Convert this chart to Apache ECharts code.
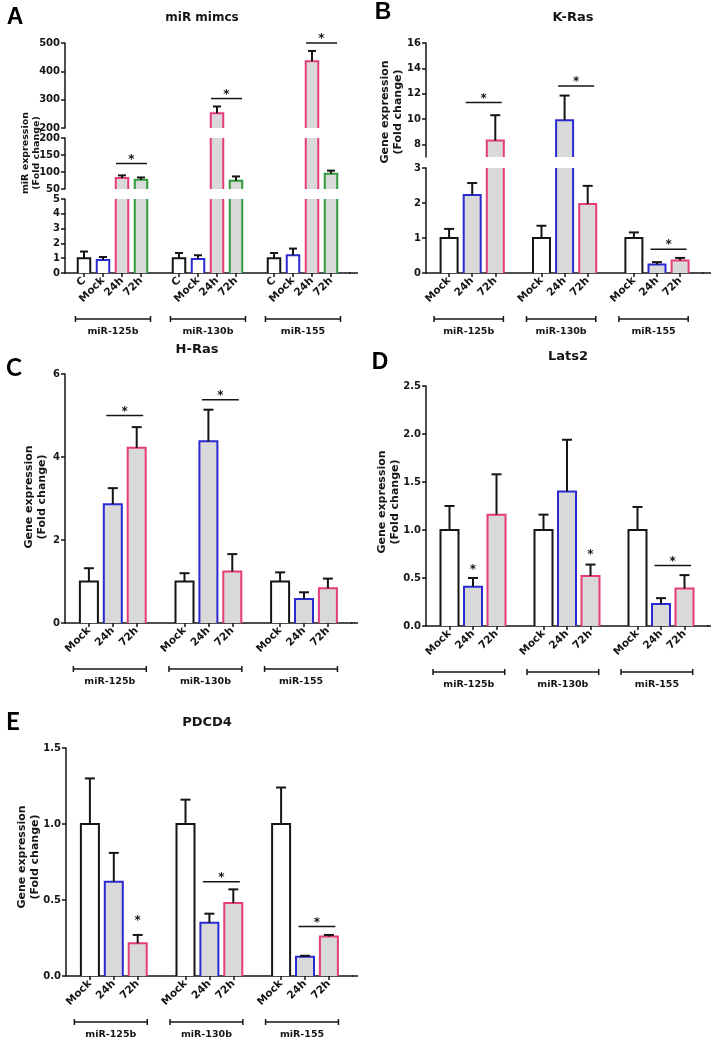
<!DOCTYPE html>
<html>
<head>
<meta charset="utf-8">
<script src="https://cdn.jsdelivr.net/npm/echarts@6/dist/echarts.min.js"></script>
<style>
  html, body { margin: 0; background: #fff; }
  #chart { width: 712px; height: 1050px; }
</style>
</head>
<body>
<div id="chart"></div>
<script>
// groups and conditions
const groups = ['miR-125b', 'miR-130b', 'miR-155']
const mimicConds = ['C', 'Mock', '24h', '72h']
const geneConds = ['Mock', '24h', '72h']

// A: miR mimcs, mean and SD (group by group, conditions in order)
const mimicsMean = [1.0, 0.88, 82, 77, 1.0, 0.95, 252, 74, 1.0, 1.2, 436, 95]
const mimicsSd = [0.45, 0.2, 8, 7, 0.35, 0.25, 24, 13, 0.35, 0.45, 36, 9]
// B: K-Ras
const krasMean = [1.0, 2.23, 8.3, 1.0, 9.9, 1.97, 1.0, 0.24, 0.36]
const krasSd = [0.26, 0.34, 2.0, 0.35, 1.95, 0.52, 0.16, 0.07, 0.07]
// C: H-Ras
const hrasMean = [1.0, 2.86, 4.22, 1.0, 4.38, 1.24, 1.0, 0.58, 0.84]
const hrasSd = [0.32, 0.39, 0.5, 0.2, 0.76, 0.42, 0.22, 0.16, 0.23]
// D: Lats2
const lats2Mean = [1.0, 0.41, 1.16, 1.0, 1.40, 0.52, 1.0, 0.23, 0.39]
const lats2Sd = [0.25, 0.09, 0.42, 0.16, 0.54, 0.12, 0.24, 0.06, 0.14]
// E: PDCD4
const pdcd4Mean = [1.0, 0.62, 0.215, 1.0, 0.35, 0.48, 1.0, 0.127, 0.26]
const pdcd4Sd = [0.3, 0.19, 0.055, 0.16, 0.06, 0.09, 0.24, 0.006, 0.01]

// significance marks: [group, first cond, last cond, height]
const mimicsSig = [[0, 2, 3, 125], [1, 2, 3, 304], [2, 2, 3, 500]]
const krasSig = [[0, 1, 2, 11.3], [1, 1, 2, 12.6], [2, 1, 2, 0.68]]
const hrasSig = [[0, 1, 2, 5.0], [1, 1, 2, 5.38]]
const lats2Sig = [[0, 1, 1, 0.62], [1, 2, 2, 0.77], [2, 1, 2, 0.63]]
const pdcd4Sig = [[0, 2, 2, 0.38], [1, 1, 2, 0.62], [2, 1, 2, 0.325]]

// y tick labels (broken axes have one list per segment, top first)
const mimicsTicks = [[200, 300, 400, 500], [50, 100, 150, 200], [0, 1, 2, 3, 4, 5]]
const krasTicks = [[8, 10, 12, 14, 16], [0, 1, 2, 3]]
const hrasTicks = [0, 2, 4, 6]
const lats2Ticks = [0, 0.5, 1.0, 1.5, 2.0, 2.5]
const pdcd4Ticks = [0, 0.5, 1.0, 1.5]

const ink = '#151515'
const blue = '#2a2ad2'
const pink = '#e63b7c'
const green = '#2f9a3a'
const shade = '#d9d9d9'
const font = '"DejaVu Sans"'

const geneName = 'Gene expression\n(Fold change)'
const geneStroke = [ink, blue, pink]
const geneFill = ['#fff', shade, shade]

const panels = [
  {
    letter: 'A', letterPos: [15, 18], letterFont: 'bold 23px "Liberation Sans"',
    title: 'miR mimcs', titlePos: [202, 18], titleSize: 12,
    yName: 'miR expression\n(Fold change)', yNamePos: [31, 153], yNameSize: 9.5,
    conds: mimicConds, mean: mimicsMean, sd: mimicsSd, sig: mimicsSig,
    stroke: [ink, blue, pink, green], fill: ['#fff', '#fff', shade, shade],
    left: 65, axisEnd: 358, step: 19, barWidth: 12.5, capWidth: 8, sigPad: 6, bracketPad: [0.45, 0.5], decimals: 0,
    segments: [
      { top: 43, bottom: 128, min: 200, max: 500, ticks: mimicsTicks[0] },
      { top: 138, bottom: 189, min: 50, max: 200, ticks: mimicsTicks[1] },
      { top: 199, bottom: 273, min: 0, max: 5, ticks: mimicsTicks[2] }
    ]
  },
  {
    letter: 'B', letterPos: [383, 13], letterFont: 'bold 23px "Liberation Sans"',
    title: 'K-Ras', titlePos: [573, 18], titleSize: 13,
    yName: geneName, yNamePos: [392, 112], yNameSize: 11,
    conds: geneConds, mean: krasMean, sd: krasSd, sig: krasSig,
    stroke: geneStroke, fill: geneFill,
    left: 426, axisEnd: 711, step: 23.1, barWidth: 17, capWidth: 10, sigPad: 6.5, bracketPad: [0.65, 0.35], decimals: 0,
    segments: [
      { top: 43, bottom: 157, min: 7, max: 16, ticks: krasTicks[0] },
      { top: 168, bottom: 273, min: 0, max: 3, ticks: krasTicks[1] }
    ]
  },
  {
    letter: 'C', letterPos: [14, 368], letterFont: 'bold 24px Lato',
    title: 'H-Ras', titlePos: [197, 350], titleSize: 13,
    yName: geneName, yNamePos: [36, 497], yNameSize: 11,
    conds: geneConds, mean: hrasMean, sd: hrasSd, sig: hrasSig,
    stroke: geneStroke, fill: geneFill,
    left: 65, axisEnd: 358, step: 23.9, barWidth: 18, capWidth: 10, sigPad: 6.5, bracketPad: [0.65, 0.4], decimals: 0,
    segments: [{ top: 374, bottom: 623, min: 0, max: 6, ticks: hrasTicks }]
  },
  {
    letter: 'D', letterPos: [380, 363], letterFont: 'bold 23px "Liberation Sans"',
    title: 'Lats2', titlePos: [568, 357], titleSize: 13,
    yName: geneName, yNamePos: [389, 502], yNameSize: 11,
    conds: geneConds, mean: lats2Mean, sd: lats2Sd, sig: lats2Sig,
    stroke: geneStroke, fill: geneFill,
    left: 426, axisEnd: 711, step: 23.5, barWidth: 18, capWidth: 10, sigPad: 6.5, bracketPad: [0.7, 0.35], decimals: 1,
    segments: [{ top: 386, bottom: 626, min: 0, max: 2.5, ticks: lats2Ticks }]
  },
  {
    letter: 'E', letterPos: [13, 722], letterFont: 'bold 24px Lato',
    title: 'PDCD4', titlePos: [207, 723], titleSize: 13,
    yName: geneName, yNamePos: [29, 857], yNameSize: 11,
    conds: geneConds, mean: pdcd4Mean, sd: pdcd4Sd, sig: pdcd4Sig,
    stroke: geneStroke, fill: geneFill,
    left: 66, axisEnd: 358, step: 23.9, barWidth: 18, capWidth: 10, sigPad: 6.5, bracketPad: [0.65, 0.4], decimals: 1,
    segments: [{ top: 748, bottom: 976, min: 0, max: 1.5, ticks: pdcd4Ticks }]
  }
]

function drawBar(p) {
  return function(params, api) {
    const cs = params.coordSys
    const k = api.value(0)
    const ci = api.value(2)
    const top = api.coord([k, api.value(1)])
    const x = top[0]
    const half = p.barWidth / 2
    // bars that run past a break lose their top edge
    const cut = top[1] < cs.y
    const yTop = Math.max(top[1], cs.y)
    const yBase = Math.min(api.coord([k, 0])[1], cs.y + cs.height)
    if (yBase - yTop < 0.5) return
    const line = { stroke: p.stroke[ci], lineWidth: 2, fill: null }
    const children = [{
      type: 'rect',
      shape: { x: x - half, y: yTop, width: half * 2, height: yBase - yTop },
      style: { fill: p.fill[ci] }
    }]
    if (cut) {
      children.push({ type: 'line', shape: { x1: x - half, y1: yBase, x2: x - half, y2: yTop }, style: line })
      children.push({ type: 'line', shape: { x1: x + half, y1: yBase, x2: x + half, y2: yTop }, style: line })
    } else {
      children.push({
        type: 'polyline',
        shape: { points: [[x - half, yBase], [x - half, yTop], [x + half, yTop], [x + half, yBase]] },
        style: line
      })
    }
    return { type: 'group', children }
  }
}

function drawErr(p) {
  return function(params, api) {
    const k = api.value(0)
    const m = api.value(1)
    const a = api.coord([k, m])
    const b = api.coord([k, m + api.value(2)])
    const w = p.capWidth / 2
    const style = { stroke: ink, lineWidth: 2 }
    return {
      type: 'group',
      children: [
        { type: 'line', shape: { x1: a[0], y1: a[1], x2: b[0], y2: b[1] }, style },
        { type: 'line', shape: { x1: b[0] - w, y1: b[1], x2: b[0] + w, y2: b[1] }, style }
      ]
    }
  }
}

function drawSig(p) {
  return function(params, api) {
    const a = api.coord([api.value(0), api.value(2)])
    const b = api.coord([api.value(1), api.value(2)])
    const star = {
      type: 'text',
      x: (a[0] + b[0]) / 2,
      y: a[1] - 4,
      style: { text: '*', font: 'bold 12px ' + font, fill: ink, align: 'center', verticalAlign: 'middle' }
    }
    if (api.value(0) === api.value(1)) {
      star.y = a[1] + 3
      return star
    }
    return {
      type: 'group',
      children: [
        { type: 'line', shape: { x1: a[0] - p.sigPad, y1: a[1], x2: b[0] + p.sigPad, y2: a[1] }, style: { stroke: ink, lineWidth: 1.5 } },
        star
      ]
    }
  }
}

// group brackets under the labels; the first item also carries the axis line on to its end
function drawBracket(p) {
  return function(params, api) {
    const cs = params.coordSys
    const k1 = api.value(0)
    const x1 = api.coord([k1, 0])[0]
    const x2 = api.coord([api.value(1), 0])[0]
    const s = api.coord([k1 + 1, 0])[0] - x1
    const l = x1 - p.bracketPad[0] * s
    const r = x2 + p.bracketPad[1] * s
    const base = cs.y + cs.height
    const y = base + 46
    const style = { stroke: ink, lineWidth: 1.5 }
    const children = [
      { type: 'line', shape: { x1: l, y1: y, x2: r, y2: y }, style },
      { type: 'line', shape: { x1: l, y1: y - 3, x2: l, y2: y + 3 }, style },
      { type: 'line', shape: { x1: r, y1: y - 3, x2: r, y2: y + 3 }, style },
      {
        type: 'text', x: (l + r) / 2, y: y + 13,
        style: { text: groups[api.value(3)], font: 'bold 9.5px ' + font, fill: ink, align: 'center', verticalAlign: 'middle' }
      }
    ]
    if (params.dataIndex === 0) {
      children.push({ type: 'line', shape: { x1: cs.x + cs.width - 1, y1: base, x2: p.axisEnd, y2: base }, style })
    }
    return { type: 'group', children }
  }
}

const grids = []
const xAxes = []
const yAxes = []
const series = []
const graphics = []

panels.forEach(p => {
  const n = p.conds.length
  const cats = ['gap0']
  groups.forEach((g, gi) => {
    p.conds.forEach(c => cats.push(g + '|' + c))
    cats.push('gap' + (gi + 1))
  })
  const catIndex = (gi, ci) => 1 + gi * (n + 1) + ci
  const bars = []
  const errs = []
  p.mean.forEach((m, i) => {
    const gi = Math.floor(i / n)
    const ci = i % n
    bars.push([catIndex(gi, ci), m, ci])
    errs.push([catIndex(gi, ci), m, p.sd[i]])
  })
  const sigs = p.sig.map(d => [catIndex(d[0], d[1]), catIndex(d[0], d[2]), d[3]])
  const brackets = groups.map((g, gi) => [catIndex(gi, 0), catIndex(gi, n - 1), 0, gi])
  const width = p.step * (cats.length - 1)

  p.segments.forEach((seg, si) => {
    const idx = grids.length
    const isBase = si === p.segments.length - 1
    const regular = seg.ticks[0] === seg.min
    const inSeg = v => v >= seg.min && v <= seg.max
    grids.push({ left: p.left, top: seg.top, width: width, height: seg.bottom - seg.top, outerBoundsMode: 'none' })
    xAxes.push({
      gridIndex: idx,
      type: 'category',
      data: cats,
      boundaryGap: false,
      show: isBase,
      axisLine: { onZero: false, lineStyle: { color: ink, width: 1.5 } },
      axisTick: { length: 4, interval: (i, v) => !v.startsWith('gap'), lineStyle: { color: ink, width: 1.5 } },
      axisLabel: {
        interval: 0, rotate: 45, margin: 6, color: ink,
        fontFamily: font, fontWeight: 'bold', fontSize: 10.5,
        formatter: v => v.startsWith('gap') ? '' : v.split('|')[1]
      },
      splitLine: { show: false }
    })
    yAxes.push({
      gridIndex: idx,
      type: 'value',
      min: seg.min,
      max: seg.max,
      interval: regular ? seg.ticks[1] - seg.ticks[0] : undefined,
      axisLine: { show: true, lineStyle: { color: ink, width: 1.5 } },
      axisTick: { show: true, length: 4, lineStyle: { color: ink, width: 1.5 }, customValues: regular ? undefined : seg.ticks },
      axisLabel: {
        color: ink, fontFamily: font, fontWeight: 'bold', fontSize: 10, margin: 5,
        customValues: regular ? undefined : seg.ticks,
        formatter: v => Number(v).toFixed(p.decimals)
      },
      splitLine: { show: false }
    })
    const base = { type: 'custom', xAxisIndex: idx, yAxisIndex: idx, silent: true, animation: false }
    series.push(Object.assign({}, base, { renderItem: drawBar(p), data: bars, encode: { x: 0, y: 1 } }))
    series.push(Object.assign({}, base, { renderItem: drawErr(p), data: errs.filter(d => inSeg(d[1])), encode: { x: 0, y: 1 } }))
    series.push(Object.assign({}, base, { renderItem: drawSig(p), data: sigs.filter(d => inSeg(d[2])), encode: { x: [0, 1], y: 2 } }))
    if (isBase) {
      series.push(Object.assign({}, base, { renderItem: drawBracket(p), data: brackets, encode: { x: [0, 1], y: 2 } }))
    }
  })

  graphics.push({
    type: 'text', x: p.letterPos[0], y: p.letterPos[1],
    style: { text: p.letter, font: p.letterFont, fill: '#000', align: 'center', verticalAlign: 'middle' }
  })
  graphics.push({
    type: 'text', x: p.titlePos[0], y: p.titlePos[1],
    style: { text: p.title, font: 'bold ' + p.titleSize + 'px ' + font, fill: ink, align: 'center', verticalAlign: 'middle' }
  })
  graphics.push({
    type: 'text', x: p.yNamePos[0], y: p.yNamePos[1], rotation: Math.PI / 2,
    style: {
      text: p.yName, font: 'bold ' + p.yNameSize + 'px ' + font, lineHeight: p.yNameSize + 2,
      fill: ink, align: 'center', verticalAlign: 'middle'
    }
  })
})

const chart = echarts.init(document.getElementById('chart'))
chart.setOption({
  backgroundColor: '#fff',
  animation: false,
  grid: grids,
  xAxis: xAxes,
  yAxis: yAxes,
  series: series,
  graphic: graphics
})
</script>
</body>
</html>
